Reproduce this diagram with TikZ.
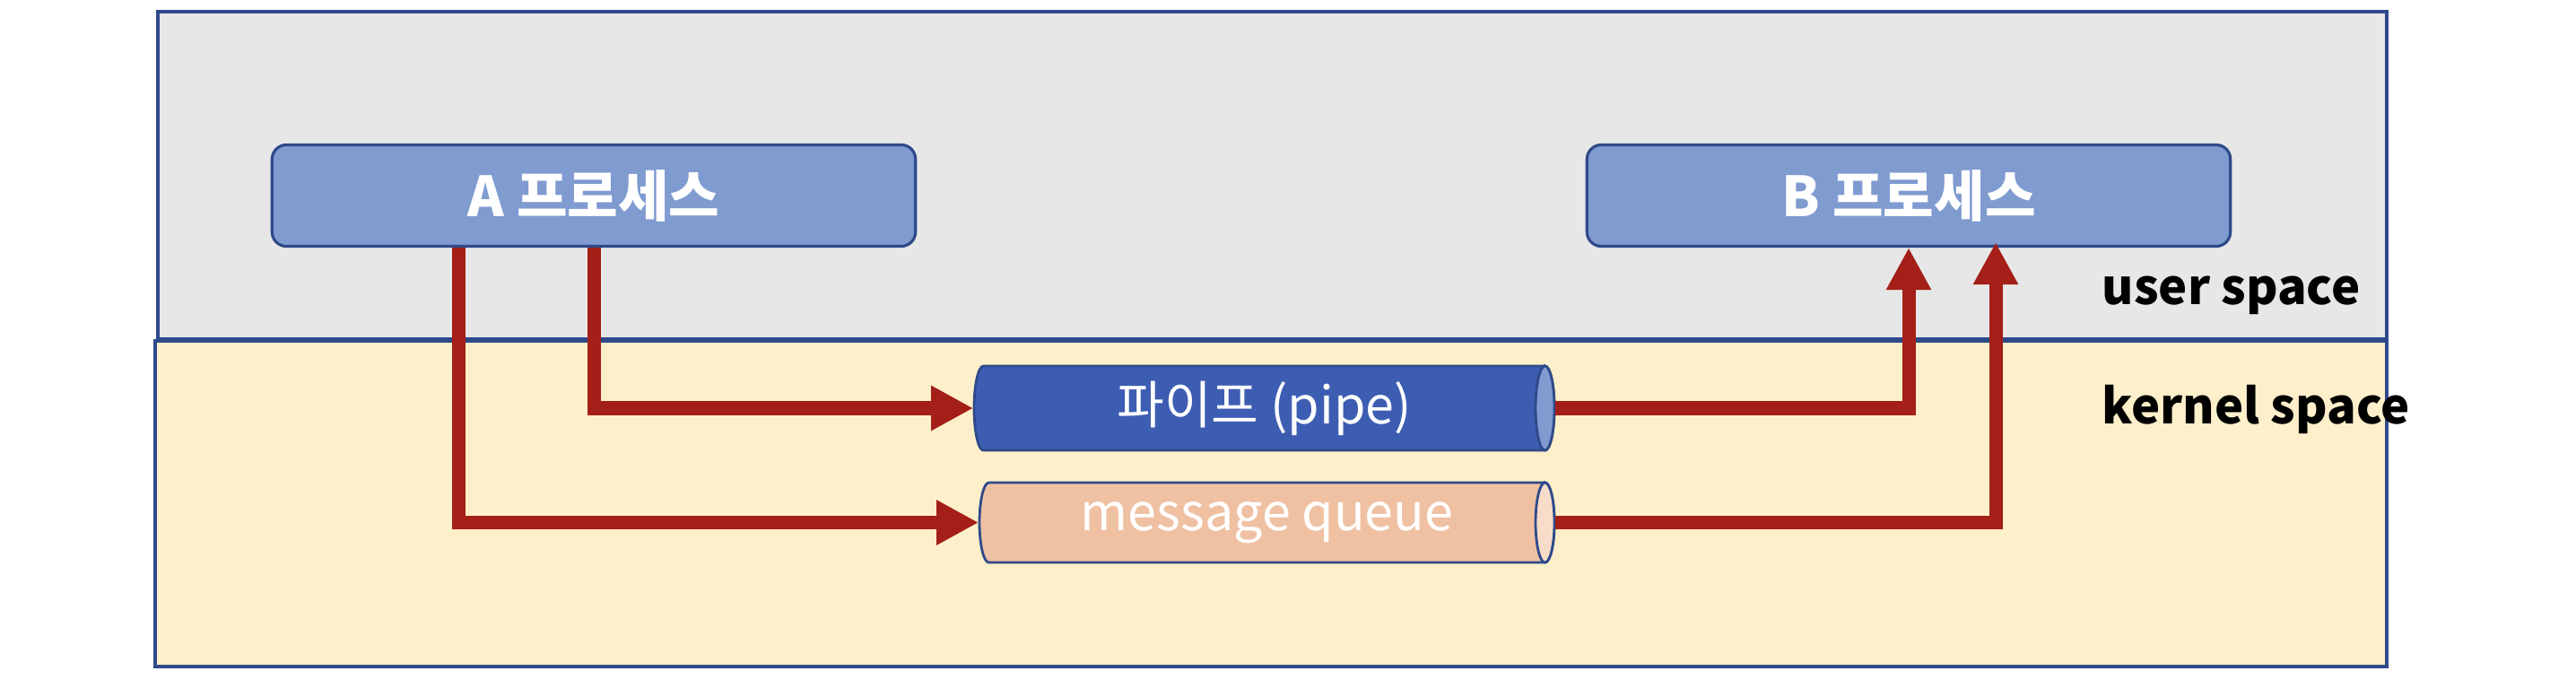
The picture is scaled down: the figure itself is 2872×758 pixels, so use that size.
\documentclass[tikz,border=0pt]{standalone}
\usepackage{fontspec}
\setmainfont{Noto Sans CJK KR}
\usetikzlibrary{arrows.meta,calc}
\definecolor{usergray}{HTML}{E7E7E7}
\definecolor{kernelyellow}{HTML}{FDEFCA}
\definecolor{bordblue}{HTML}{2F4A8A}
\definecolor{procfill}{HTML}{7F9BD0}
\definecolor{pipefill}{HTML}{3D5DB2}
\definecolor{mqfill}{HTML}{EFC1A2}
\definecolor{mqend}{HTML}{F8DCC9}
\definecolor{arrowred}{HTML}{A31F17}
\begin{document}
\begin{tikzpicture}[x=0.01cm,y=-0.01cm,
  region/.style={draw=bordblue,line width=0.9pt},
  proc/.style={rectangle,rounded corners=0.16cm,draw=bordblue,line width=0.9pt,fill=procfill,text=white,
    font=\bfseries\fontsize{17.5}{20}\selectfont,minimum width=7.17cm,minimum height=1.13cm,inner sep=0pt},
  cylbody/.style={draw=bordblue,line width=0.8pt},
  cyltext/.style={rectangle,inner sep=0pt,text=white,font=\fontsize{16.3}{20}\selectfont},
  arr/.style={draw=arrowred,line width=0.15cm,-{Triangle[length=0.47cm,width=0.47cm]}},
  spacelabel/.style={anchor=base west,font=\bfseries\fontsize{15.4}{19}\selectfont,text=black,inner sep=0pt}
]
\useasboundingbox (0,0) rectangle (2872,758);
\fill[white] (0,0) rectangle (2872,758);
\filldraw[region,fill=usergray] (176,13) rectangle (2661,378);
\filldraw[region,fill=kernelyellow] (173,380) rectangle (2661,743);

% pipe cylinder
\filldraw[cylbody,fill=pipefill] (1722.5,408) -- (1096.5,408)
  arc[start angle=90,end angle=270,x radius=0.105cm,y radius=0.47cm]
  -- (1722.5,502)
  arc[start angle=270,end angle=450,x radius=0.105cm,y radius=0.47cm] -- cycle;
\filldraw[cylbody,fill=procfill] (1722.5,455) ellipse[x radius=0.105cm,y radius=0.47cm];
% message queue cylinder
\filldraw[cylbody,fill=mqfill] (1722.5,538) -- (1102.5,538)
  arc[start angle=90,end angle=270,x radius=0.105cm,y radius=0.445cm]
  -- (1722.5,627)
  arc[start angle=270,end angle=450,x radius=0.105cm,y radius=0.445cm] -- cycle;
\filldraw[cylbody,fill=mqend] (1722.5,582.5) ellipse[x radius=0.105cm,y radius=0.445cm];

\node[cyltext,minimum width=6.47cm,minimum height=0.94cm] (pipe) at (1409.5,455) {파이프 (pipe)};
\node[cyltext,minimum width=6.41cm,minimum height=0.89cm] (mq) at (1412.5,582.5) {message queue};

\node[proc] (A) at (662,218) {A 프로세스};
\node[proc] (B) at (2128,218) {B 프로세스};

\node[spacelabel] (user) at (2343,340) {user space};
\node[spacelabel] (kernel) at (2343,472) {kernel space};

\draw[arr] ($(A.south)+(-151,0)$) |- (mq.west);
\draw[arr] (A.south) |- (pipe.west);
\draw[arr] (pipe.east) -| (B.south);
\draw[arr] (mq.east) -| ($(B.south)+(97,-6)$);
\end{tikzpicture}
\end{document}
